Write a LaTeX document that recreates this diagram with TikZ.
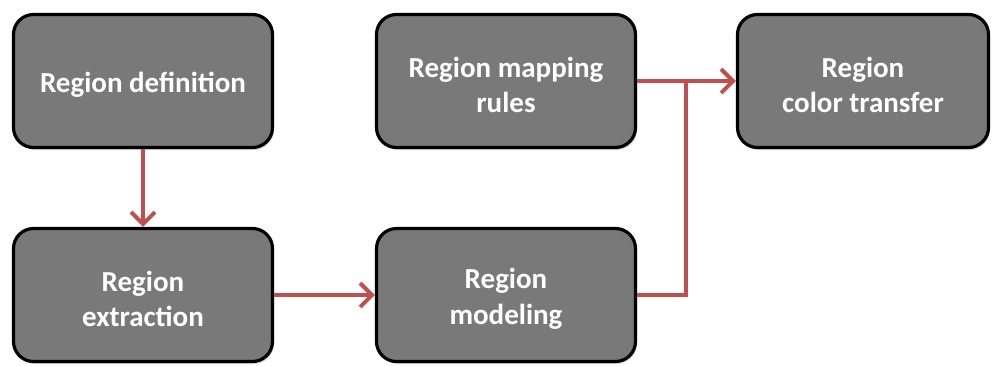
\documentclass[tikz,border=0pt]{standalone}
\usepackage{fontspec}
\setmainfont{Carlito}
\usetikzlibrary{arrows.meta,shadows}
\definecolor{boxgray}{HTML}{797979}
\definecolor{arrred}{HTML}{C0504D}
\begin{document}
\begin{tikzpicture}[x=1pt,y=-1pt,
  box/.style={draw=black, line width=3.2pt, fill=boxgray, rounded corners=20pt,
    minimum width=259pt, minimum height=133pt, inner sep=0pt,
    drop shadow={opacity=0.3, shadow xshift=1.5pt, shadow yshift=-2.5pt}},
  boxtext/.style={text=white, font=\bfseries\fontsize{29}{35.5}\selectfont,
    align=center, inner sep=0pt, yshift=-4pt},
  conn/.style={draw=arrred, line width=4pt},
  tip/.style={-{Straight Barb[length=12pt,width=24pt]}}]
\useasboundingbox (0,0) rectangle (993,365);
\node[box, label={[boxtext]center:Region definition}] (def) at (143,81) {};
\node[box, label={[boxtext]center:Region\\extraction}] (ext) at (143,295) {};
\node[box, label={[boxtext]center:Region mapping\\rules}] (map) at (506,81) {};
\node[box, label={[boxtext]center:Region\\modeling}] (mod) at (506,295) {};
\node[box, minimum width=251pt, label={[boxtext]center:Region\\color transfer}] (col) at (863,81) {};
\coordinate (j) at (686,81);
\draw[conn,tip] (def) -- (ext);
\draw[conn,tip] (ext) -- (mod);
\draw[conn,tip] (map) -- (col);
\draw[conn] (mod.east) -| (j);
\end{tikzpicture}
\end{document}
